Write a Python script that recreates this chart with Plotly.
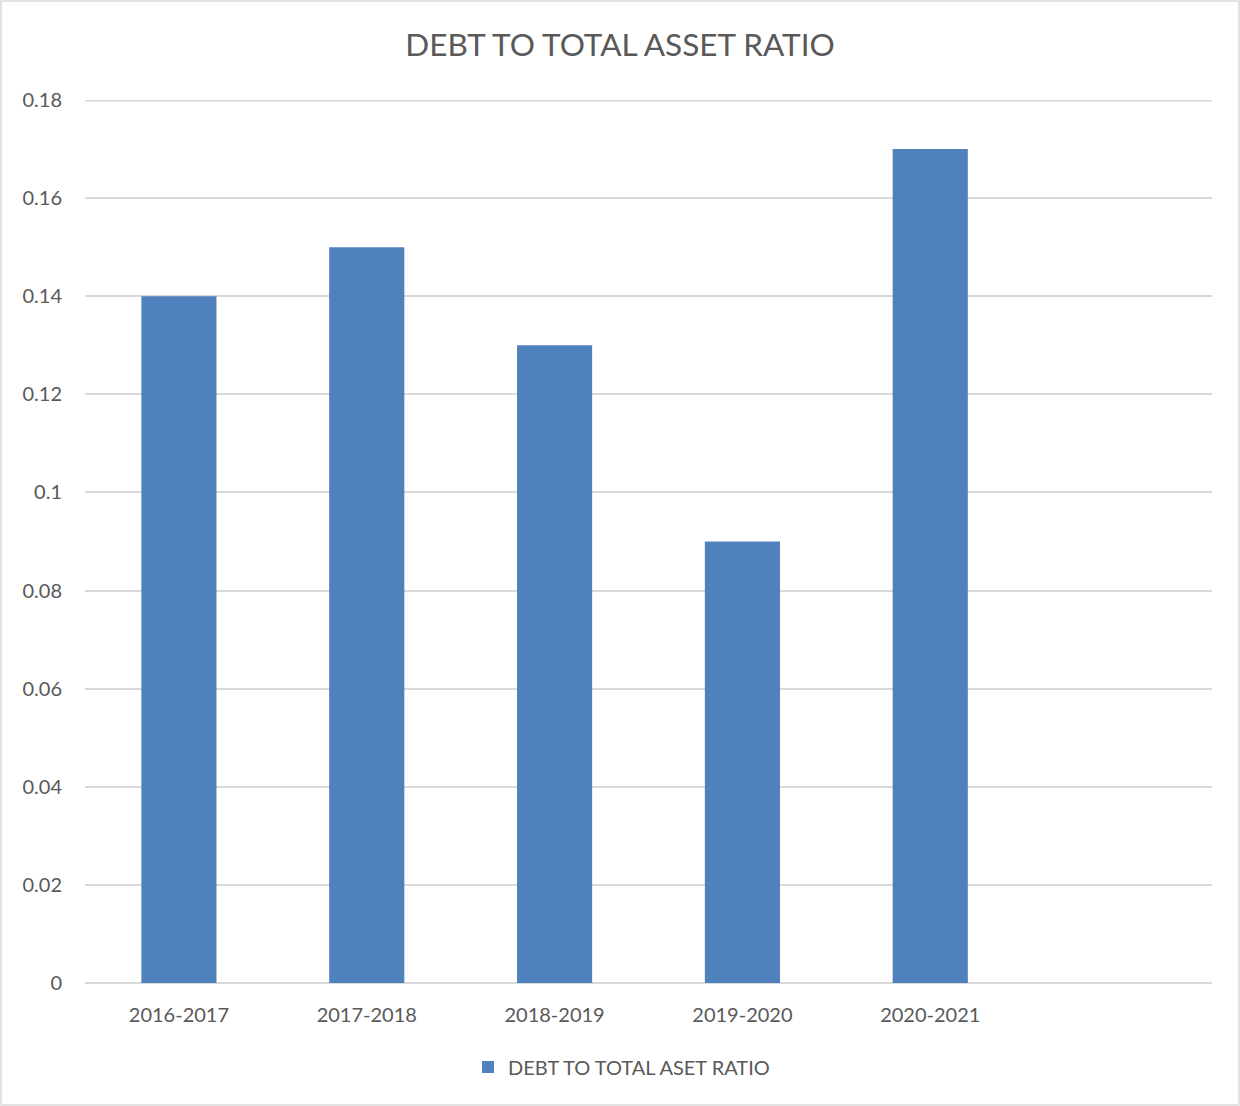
import plotly.graph_objects as go

categories = ["2016-2017", "2017-2018", "2018-2019", "2019-2020", "2020-2021"]
values = [0.14, 0.15, 0.13, 0.09, 0.17]
series_name = "DEBT TO TOTAL ASET RATIO"
title_text = "DEBT TO TOTAL ASSET RATIO"
y_max = 0.18

W, H = 1240, 1106
ml, mr, mt, mb = 85, 28, 100, 123
pw, ph = W - ml - mr, H - mt - mb

fig = go.Figure()
fig.add_trace(go.Bar(x=categories, y=values, name=series_name,
                     marker=dict(color="#4f81bd", line=dict(width=0)), width=0.4))

font = "Lato, 'Open Sans', sans-serif"
fig.update_layout(
    width=W, height=H,
    margin=dict(l=ml, r=mr, t=mt, b=mb),
    paper_bgcolor="white", plot_bgcolor="white",
    font=dict(family=font, color="#595959", size=20),
    title=dict(text=title_text, x=0.5, xanchor="center", y=1 - 45 / H, yanchor="middle",
               font=dict(size=31.5, color="#595959", family=font)),
    showlegend=True,
    legend=dict(orientation="h", x=0.5 - 27 / pw, xanchor="center", y=-(1067 - 983) / ph,
                yanchor="middle", font=dict(size=20, color="#595959")),
    xaxis=dict(type="category", range=[-0.5, 5.5], showgrid=False, showline=False,
               ticks="", tickfont=dict(size=20, color="#595959"), ticklabelstandoff=18),
    yaxis=dict(range=[0, y_max], dtick=0.02, tick0=0, showgrid=True, gridcolor="#d9d9d9",
               gridwidth=1.5, zeroline=True, zerolinecolor="#d9d9d9", zerolinewidth=1.5,
               showline=False, ticks="", ticklabelstandoff=22,
               tickfont=dict(size=20, color="#595959")),
    bargap=0.6,
)
# top gridline (at range edge, not drawn by plotly)
fig.add_shape(type="line", xref="paper", yref="y", x0=0, x1=1, y0=y_max, y1=y_max,
              line=dict(color="#d9d9d9", width=3), layer="below")
fig.add_shape(type="rect", xref="paper", yref="paper",
              x0=-(ml - 1) / pw, x1=1 + (mr - 1) / pw,
              y0=-(mb - 1) / ph, y1=1 + (mt - 1) / ph,
              line=dict(color="#d9d9d9", width=1.5), fillcolor="rgba(0,0,0,0)", layer="below")
fig.write_html("out.html")
